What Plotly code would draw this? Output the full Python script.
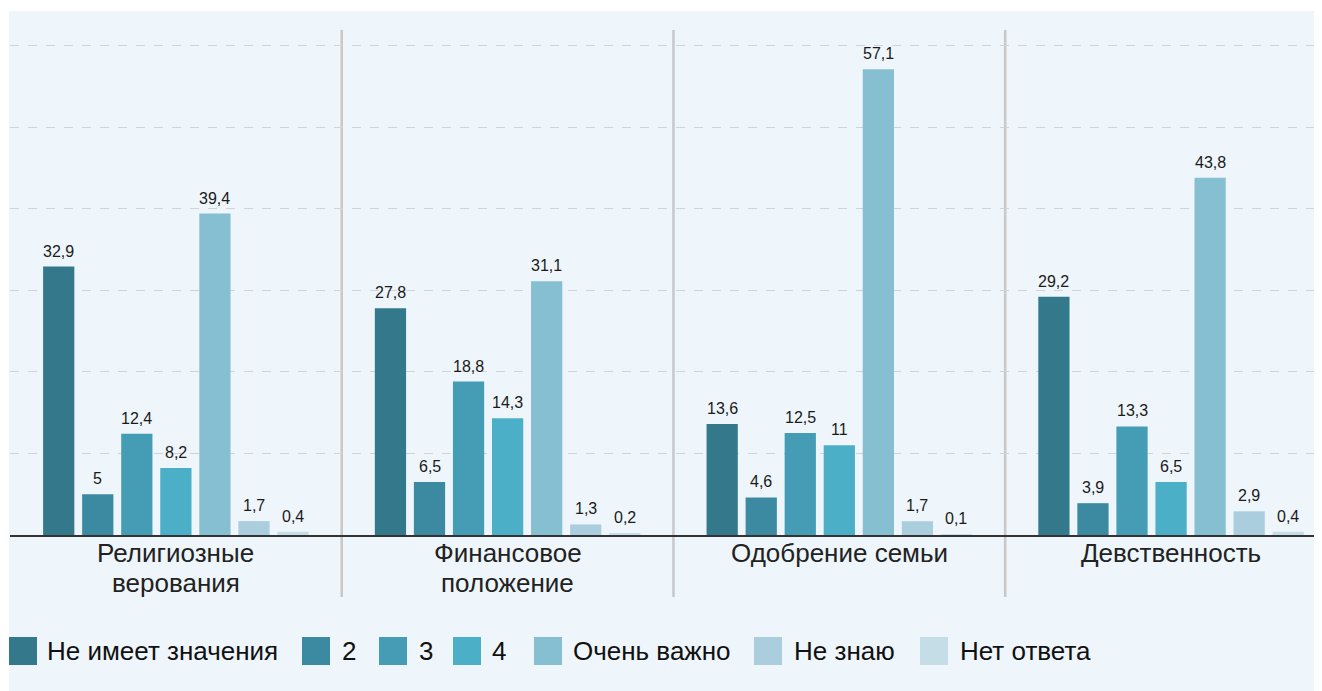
import plotly.graph_objects as go

categories = ["Религиозные<br>верования", "Финансовое<br>положение", "Одобрение семьи", "Девственность"]
series_names = ["Не имеет значения", "2", "3", "4", "Очень важно", "Не знаю", "Нет ответа"]
s_not_matter = [32.9, 27.8, 13.6, 29.2]
s_2 = [5, 6.5, 4.6, 3.9]
s_3 = [12.4, 18.8, 12.5, 13.3]
s_4 = [8.2, 14.3, 11, 6.5]
s_very = [39.4, 31.1, 57.1, 43.8]
s_dk = [1.7, 1.3, 1.7, 2.9]
s_na = [0.4, 0.2, 0.1, 0.4]
series_values = [s_not_matter, s_2, s_3, s_4, s_very, s_dk, s_na]
colors = ["#33798b", "#3c8aa1", "#459db5", "#4bafc7", "#86bfd1", "#abcedf", "#c4dde7"]

# page body has an 8px default margin; figure coordinates are page coords minus OFF
OFF = 8
W, H = 1322 - OFF, 691 - OFF
ML, MR, MT, MB = 10 - OFF, 0, 30 - OFF, 691 - 535
PW = W - ML - MR
PH = H - MT - MB
BASE = 535 - OFF  # baseline y in figure coords
BARGAP, GROUPGAP = 0.176, 0.2


def fmt(v):
    return ("%g" % v).replace(".", ",")


FONT = "Liberation Sans, Arial, Helvetica, sans-serif"
cat_idx = list(range(len(categories)))
nser = len(series_names)

fig = go.Figure()
annotations = []
for si, (name, vals, col) in enumerate(zip(series_names, series_values, colors)):
    fig.add_trace(go.Bar(
        x=cat_idx, y=vals, name=name,
        marker=dict(color=col, line=dict(width=0)),
        showlegend=False, hoverinfo="x+y+name",
    ))
    # value labels placed at the bar's centre (data units) and value
    off = (si - (nser - 1) / 2) * (1 - BARGAP) / nser
    for ci, v in zip(cat_idx, vals):
        annotations.append(dict(x=ci + off, y=v, xref="x", yref="y", text=fmt(v),
                                showarrow=False, yanchor="bottom", xanchor="center",
                                yshift=5, font=dict(size=16, color="#1a1a1a", family=FONT)))


def px_x(px):
    return (px - OFF - ML) / PW


def px_y(py):
    return (BASE - (py - OFF)) / PH


shapes = []
shapes.append(dict(type="rect", xref="paper", yref="paper", layer="below",
                   x0=px_x(9), x1=px_x(1330), y0=px_y(700), y1=px_y(11),
                   fillcolor="#eef6fb", line=dict(width=0)))
for b in [0.5, 1.5, 2.5]:
    shapes.append(dict(type="line", xref="x", yref="paper", x0=b, x1=b,
                       y0=px_y(597), y1=px_y(30), line=dict(color="#c8c8c8", width=2.5),
                       layer="below"))

# category labels, one annotation per line for tight line spacing
line_y = [553, 583]
for ci, cat in zip(cat_idx, categories):
    for li, part in enumerate(cat.split("<br>")):
        annotations.append(dict(x=ci, y=px_y(line_y[li]), xref="x", yref="paper", text=part,
                                showarrow=False, xanchor="center", yanchor="middle",
                                borderpad=0,
                                font=dict(size=26, color="#222", family=FONT)))

leg_sq = [9, 302, 379, 453, 534, 754, 920]
leg_tx = [45, 340, 417, 490, 571, 792, 958]
for i, (name, col) in enumerate(zip(series_names, colors)):
    shapes.append(dict(type="rect", xref="paper", yref="paper",
                       x0=px_x(leg_sq[i]), x1=px_x(leg_sq[i] + 28),
                       y0=px_y(665), y1=px_y(637), fillcolor=col, line=dict(width=0)))
    annotations.append(dict(xref="paper", yref="paper", x=px_x(leg_tx[i]), y=px_y(651),
                            xanchor="left", yanchor="middle", showarrow=False, text=name,
                            font=dict(size=26, color="#111", family=FONT)))

fig.update_layout(
    width=W, height=H,
    margin=dict(l=ML, r=MR, t=MT, b=MB),
    paper_bgcolor="white", plot_bgcolor="rgba(0,0,0,0)",
    barmode="group", bargap=BARGAP, bargroupgap=GROUPGAP,
    shapes=shapes, annotations=annotations,
    font=dict(family=FONT, color="#222"),
    xaxis=dict(tickmode="array", tickvals=cat_idx, ticktext=categories, showticklabels=False,
               range=[-0.5, 3.455], showline=True, linecolor="#333", linewidth=1.5,
               showgrid=False, ticks="", zeroline=False),
    yaxis=dict(range=[0, 61.9], dtick=10, showgrid=True, gridcolor="#d0d4d7",
               griddash="dash", gridwidth=1, showticklabels=False, zeroline=False,
               showline=False),
)

fig.write_html("out.html")
